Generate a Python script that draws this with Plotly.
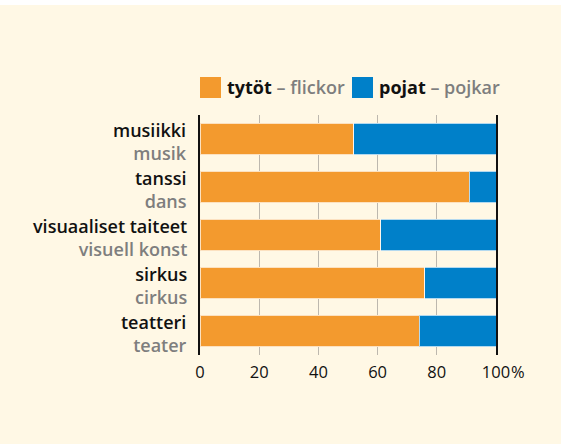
import plotly.graph_objects as go

# Data
categories_fi = ["musiikki", "tanssi", "visuaaliset taiteet", "sirkus", "teatteri"]
categories_sv = ["musik", "dans", "visuell konst", "cirkus", "teater"]
girls = [52, 91, 61, 76, 74]   # tytöt – flickor (%)
boys = [48, 9, 39, 24, 26]     # pojat – pojkar (%)
x_ticks = [0, 20, 40, 60, 80, 100]

ORANGE = "#F39A2E"
BLUE = "#0080C9"
BG = "#FFF8E5"
GRAY = "#7E7E7E"
FONT = "Open Sans"

ypos = list(range(len(categories_fi)))

fig = go.Figure()
fig.add_trace(go.Bar(y=ypos, x=girls, orientation="h",
                     marker=dict(color=ORANGE, line=dict(color="rgba(255,255,255,0.7)", width=1)),
                     width=0.65, name="tytöt – flickor", showlegend=False))
fig.add_trace(go.Bar(y=ypos, x=boys, orientation="h",
                     marker=dict(color=BLUE, line=dict(color="rgba(255,255,255,0.7)", width=1)),
                     width=0.65, name="pojat – pojkar", showlegend=False))

W, H = 570, 444
L, R, T, B = 200, 74, 115, 89
pw, ph = W - L - R, H - T - B

def px(x):
    return (x - L) / pw

def py(y):
    return (H - B - y) / ph

fig.update_layout(
    barmode="stack",
    width=W, height=H,
    margin=dict(l=L, r=R, t=T, b=B, pad=0),
    paper_bgcolor=BG, plot_bgcolor=BG,
    font=dict(family=FONT, size=16, color="black"),
    xaxis=dict(range=[0, 100], tickvals=x_ticks, ticktext=[str(v) for v in x_ticks],
               showgrid=True, gridcolor="#BDB8AE", gridwidth=1, zeroline=False,
               showline=False, ticks="", ticklabelstandoff=5,
               tickfont=dict(size=16.5, family=FONT, color="#111111")),
    yaxis=dict(tickvals=ypos, ticktext=[""] * len(ypos), range=[len(ypos) - 0.5, -0.5],
               showgrid=False, zeroline=False, showline=True, mirror=True,
               linecolor="#111111", linewidth=2, ticks=""),
)

# category labels (two lines: Finnish bold black, Swedish bold gray)
for i, (fi, sv) in enumerate(zip(categories_fi, categories_sv)):
    fig.add_annotation(xref="paper", yref="y", x=px(189), y=i, xanchor="right", yanchor="middle",
                       align="right", yshift=-2, showarrow=False,
                       text=f"{fi}<br><span style='color:{GRAY}'>{sv}</span>",
                       font=dict(size=18, family=FONT, color="#111111", weight=600))

shapes = [
    # legend squares
    dict(type="rect", xref="paper", yref="paper", x0=px(200), x1=px(221), y0=py(98), y1=py(77),
         fillcolor=ORANGE, line=dict(width=0)),
    dict(type="rect", xref="paper", yref="paper", x0=px(352), x1=px(373), y0=py(98), y1=py(77),
         fillcolor=BLUE, line=dict(width=0)),
    # white margins of the page
    dict(type="rect", xref="paper", yref="paper", x0=px(561), x1=px(575), y0=py(450), y1=py(-5),
         fillcolor="white", line=dict(width=0), layer="above"),
    dict(type="rect", xref="paper", yref="paper", x0=px(-5), x1=px(575), y0=py(5), y1=py(-5),
         fillcolor="white", line=dict(width=0), layer="above"),
]
fig.update_layout(shapes=shapes)

fig.add_annotation(xref="paper", yref="paper", x=px(225), y=py(87), xanchor="left", yanchor="middle",
                   showarrow=False,
                   text=f"<b>tytöt</b> <span style='color:{GRAY}'>– flickor</span>",
                   font=dict(size=18, family=FONT, color="#111111", weight=600))
fig.add_annotation(xref="paper", yref="paper", x=px(377), y=py(87), xanchor="left", yanchor="middle",
                   showarrow=False,
                   text=f"<b>pojat</b> <span style='color:{GRAY}'>– pojkar</span>",
                   font=dict(size=18, family=FONT, color="#111111", weight=600))
fig.add_annotation(xref="x", yref="paper", x=100, y=py(371), xanchor="left", yanchor="middle", xshift=13,
                   showarrow=False, text="%", font=dict(size=16.5, family=FONT, color="#111111"))

fig.write_html("out.html", post_script="document.body.style.margin='0';",
               config={"displayModeBar": False})
